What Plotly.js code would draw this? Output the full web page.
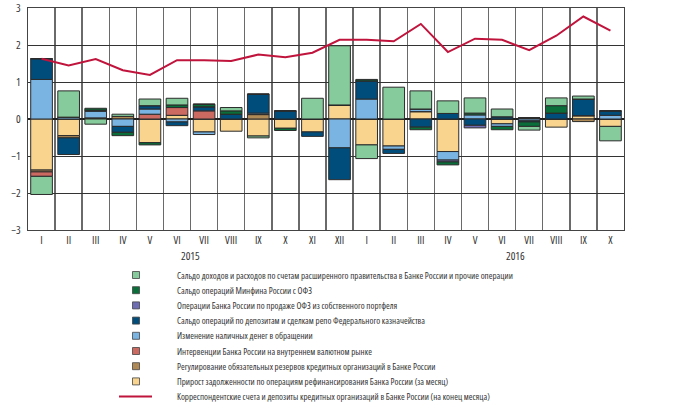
<!DOCTYPE html>
<html>
<head>
<meta charset="utf-8">
<script src="https://cdn.plot.ly/plotly-3.0.1.min.js"></script>
<style>
html,body{margin:0;padding:0;background:#fff;}
#chart{width:691px;height:410px;}
text{font-stretch:condensed !important;}
</style>
</head>
<body>
<div id="chart"></div>
<script>
const monthLabels = ["I","II","III","IV","V","VI","VII","VIII","IX","X","XI","XII","I","II","III","IV","V","VI","VII","VIII","IX","X"];
const yearLabels = ["2015","2016"];
const yearCenters = [5.5, 17.5];

const refinancing = [-1.38,-0.45,0,0,-0.64,0.10,-0.35,-0.33,-0.46,-0.25,-0.35,0.38,-0.70,-0.73,0.20,-0.88,0,-0.13,0,-0.22,0.09,-0.20];
const reserves    = [-0.05,-0.06,0.03,0.07,0,0,0,0,0.12,0,0,0,0,0,0,0,0,0,0.03,0,-0.07,0];
const interventions=[-0.12,0,0,0,0.13,0.21,0.22,0,0,0,0,0,0,0,0,0,0,0,0,0,0,0];
const cash        = [1.07,0.05,0.18,-0.20,0.14,-0.08,-0.07,0,0.04,0,0,-0.78,0.54,-0.09,0.07,-0.23,0.11,-0.07,-0.05,0,0,0.10];
const deposits    = [0.56,-0.45,0.03,-0.16,0.09,-0.10,0.11,0.13,0.51,0.22,-0.12,-0.86,0.49,-0.11,-0.22,0.15,-0.17,0.06,-0.03,0.16,0.45,0.12];
const ofzSales    = [0,0,0,0,0,0,0,0,0,0,0,0,0,0,0,-0.05,-0.07,0,0,0,0,0];
const minfin      = [0,0,0.05,-0.09,-0.06,0.07,0.07,0.09,0,-0.06,0,0,0.04,0,-0.07,-0.08,0.05,-0.09,-0.12,0.20,0,0];
const government  = [-0.49,0.71,-0.14,0.06,0.18,0.18,0,0.09,-0.05,0,0.56,1.60,-0.37,0.86,0.49,0.34,0.41,0.21,-0.10,0.21,0.08,-0.39];
const corrAccounts= [1.63,1.45,1.62,1.32,1.19,1.59,1.59,1.57,1.74,1.67,1.79,2.14,2.14,2.10,2.57,1.81,2.17,2.14,1.86,2.25,2.77,2.39];

const seriesNames = [
 "Сальдо доходов и расходов по счетам расширенного правительства в Банке России и прочие операции",
 "Сальдо операций Минфина России с ОФЗ",
 "Операции Банка России по продаже ОФЗ из собственного портфеля",
 "Сальдо операций по депозитам и сделкам репо Федерального казначейства",
 "Изменение наличных денег в обращении",
 "Интервенции Банка России на внутреннем валютном рынке",
 "Регулирование обязательных резервов кредитных организаций в Банке России",
 "Прирост задолженности по операциям рефинансирования Банка России (за месяц)",
 "Корреспондентские счета и депозиты кредитных организаций в Банке России (на конец месяца)"
];
const seriesData = [government, minfin, ofzSales, deposits, cash, interventions, reserves, refinancing];
const colors = ["#86cb9b","#0a6e3a","#6e6db4","#004d7c","#79b4e3","#cc6a62","#b08a56","#f8d48f"];
const lineColor = "#c0143c";

const FONT = "'Open Sans','Roboto Condensed',sans-serif";
const x = monthLabels.map((_, i) => i);

const traces = [];
// stacking order from zero: reverse of legend order
for (let k = seriesData.length - 1; k >= 0; k--) {
  traces.push({
    type: "bar", x: x, y: seriesData[k], name: seriesNames[k],
    marker: {color: colors[k], line: {color: "#2b2b2b", width: 1}},
    showlegend: false, hoverinfo: "y"
  });
}
traces.push({
  type: "scatter", mode: "lines", x: x, y: corrAccounts, name: seriesNames[8],
  line: {color: lineColor, width: 2}, showlegend: false
});

// plot geometry in pixels
const L = 28, R = 67, T = 8, B = 180, W = 691, H = 410;
const pw = W - L - R, ph = H - T - B;
const px2x = p => (p - L) / pw;
const py2y = p => (H - B - p) / ph;

const annotations = yearLabels.map((t, i) => ({
  text: t, x: yearCenters[i], xref: "x", y: py2y(256), yref: "paper",
  showarrow: false, xanchor: "center", yanchor: "middle",
  font: {family: FONT, size: 11, color: "#333"}
}));
const shapes = [];
const rowY0 = 275, rowStep = 15.2;
seriesNames.forEach((name, i) => {
  const py = rowY0 + i * rowStep;
  annotations.push({
    text: name, x: px2x(175), xref: "paper", y: py2y(py), yref: "paper",
    showarrow: false, xanchor: "left", yanchor: "middle", align: "left",
    font: {family: FONT, size: 9, color: "#333"}
  });
  if (i < 8) {
    shapes.push({type: "rect", xref: "paper", yref: "paper",
      x0: px2x(132.5), x1: px2x(139.5), y0: py2y(py + 3.5), y1: py2y(py - 3.5),
      fillcolor: colors[i], line: {color: "#444", width: 0.8}});
  } else {
    shapes.push({type: "line", xref: "paper", yref: "paper",
      x0: px2x(119), x1: px2x(152), y0: py2y(py), y1: py2y(py),
      line: {color: lineColor, width: 2}});
  }
});

const layout = {
  width: W, height: H,
  margin: {l: L, r: R, t: T, b: B},
  paper_bgcolor: "#fff", plot_bgcolor: "#fff",
  barmode: "relative", bargap: 0.2,
  showlegend: false,
  font: {family: FONT, size: 10, color: "#333"},
  xaxis: {
    range: [-0.5, 21.5], tickvals: x, ticktext: monthLabels,
    showgrid: false, zeroline: false, ticks: "",
    showline: true, linecolor: "#444", linewidth: 1, mirror: true,
    tickfont: {family: FONT, size: 11, color: "#333"},
    minor: {tickvals: x.slice(1).map(v => v - 0.5), showgrid: true, gridcolor: "#6a6a6a", gridwidth: 1.5, ticks: ""}
  },
  yaxis: {
    range: [-3, 3], dtick: 1, tick0: 0,
    showgrid: true, gridcolor: "#333", gridwidth: 1,
    zeroline: true, zerolinecolor: "#222", zerolinewidth: 2,
    showline: true, linecolor: "#444", linewidth: 1, mirror: true,
    ticks: "", ticklabelstandoff: 4, ticklabeloverflow: "allow",
    tickfont: {family: FONT, size: 11, color: "#333"}
  },
  annotations: annotations,
  shapes: shapes
};

Plotly.newPlot("chart", traces, layout, {displayModeBar: false, staticPlot: true});
</script>
</body>
</html>
